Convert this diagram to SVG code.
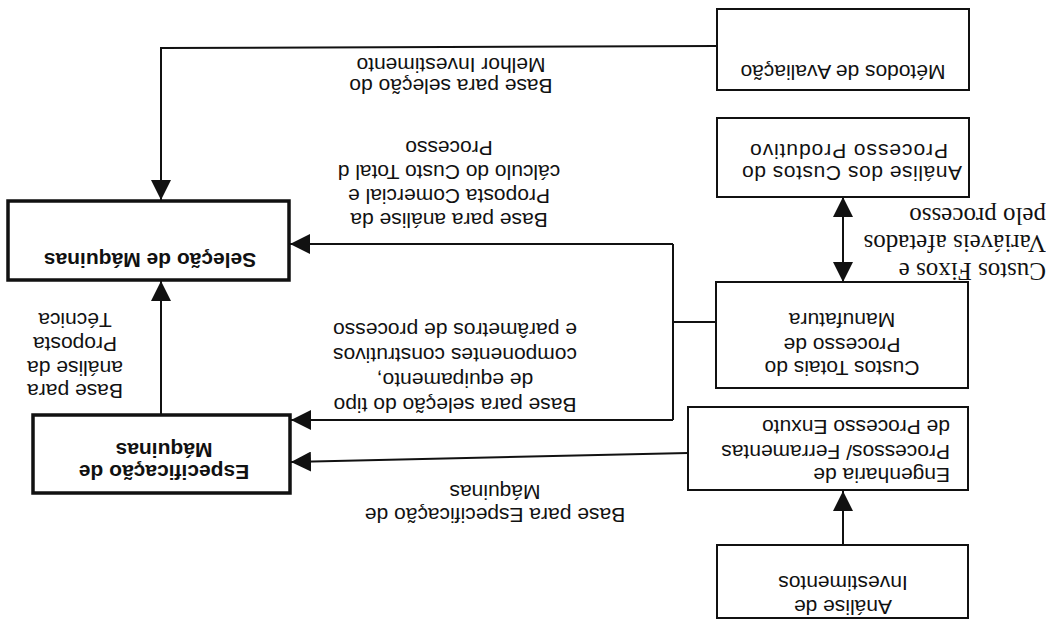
<svg xmlns="http://www.w3.org/2000/svg" width="1046" height="628" viewBox="0 0 1046 628">
<style>
.box{fill:#fff;stroke:#111;stroke-width:2}
.thick{fill:#fff;stroke:#111;stroke-width:3.5}
.t{font-family:"Liberation Sans",Arial,sans-serif;font-size:21px;fill:#111;text-anchor:middle}
.b{font-family:"Liberation Sans",Arial,sans-serif;font-size:21px;font-weight:bold;fill:#111;text-anchor:middle}
.s{font-family:"Liberation Serif","Times New Roman",serif;font-size:25px;fill:#111}
.c{fill:none;stroke:#111;stroke-width:2}
</style>
<defs>
<marker id="ah" markerUnits="userSpaceOnUse" markerWidth="20" markerHeight="20" refX="20" refY="10" orient="auto-start-reverse" viewBox="0 0 20 20">
<path d="M0,0 L20,10 L0,20 z" fill="#111"/>
</marker>
</defs>
<rect width="1046" height="628" fill="#fff"/>
<g transform="rotate(180 523 314)">
<g id="connectors">
<path class="c" d="M329,582 L885,580 L885,428" marker-end="url(#ah)"/>
<path class="c" d="M885,213 L885,347" marker-end="url(#ah)"/>
<path class="c" d="M329,306 L373,306"/>
<path class="c" d="M373,384 L373,208"/>
<path class="c" d="M373,384 L756,384" marker-end="url(#ah)"/>
<path class="c" d="M373,208 L755,208" marker-end="url(#ah)"/>
<path class="c" d="M358,175 L755,166" marker-end="url(#ah)"/>
<path class="c" d="M203,83 L203,137" marker-end="url(#ah)"/>
<path class="c" d="M203,346 L203,431" marker-start="url(#ah)" marker-end="url(#ah)"/>
<text class="t" x="595" y="549">Base para seleção do</text>
<text class="t" x="595" y="570">Melhor Investimento</text>
<text class="t" x="597" y="415">Base para análise da</text>
<text class="t" x="597" y="439">Proposta Comercial e</text>
<text class="t" x="597" y="463">cálculo do Custo Total d</text>
<text class="t" x="597" y="487">Processo</text>
<text class="t" x="591" y="230">Base para seleção do tipo</text>
<text class="t" x="591" y="255">de equipamento,</text>
<text class="t" x="591" y="280">componentes construtivos</text>
<text class="t" x="591" y="305">e parâmetros de processo</text>
<text class="t" x="551" y="120">Base para Especificação de</text>
<text class="t" x="551" y="143">Máquinas</text>
<text class="t" x="971" y="244">Base para</text>
<text class="t" x="971" y="267">análise da</text>
<text class="t" x="971" y="291">Proposta</text>
<text class="t" x="971" y="315">Técnica</text>
<text class="s" x="0" y="365">Custos Fixos e</text>
<text class="s" x="0" y="393">Variáveis afetados</text>
<text class="s" x="0" y="420">pelo processo</text>
</g>
<g id="metodos">
<rect class="box" x="77" y="538" width="252" height="81"/>
<text class="t" x="203" y="563">Métodos de Avaliação</text>
</g>
<g id="analise-custos">
<rect class="box" x="77" y="431" width="252" height="79"/>
<text class="t" x="194" y="462" textLength="220" lengthAdjust="spacing">Análise dos Custos do</text>
<text class="t" x="197" y="484" textLength="198" lengthAdjust="spacing">Processo Produtivo</text>
</g>
<g id="custos-totais">
<rect class="box" x="78" y="240" width="252" height="106"/>
<text class="t" x="204" y="267">Custos Totais do</text>
<text class="t" x="204" y="290">Processo de</text>
<text class="t" x="204" y="315">Manufatura</text>
</g>
<g id="engenharia">
<rect class="box" x="78" y="138" width="280" height="83"/>
<text class="t" x="96" y="160" style="text-anchor:start">Engenharia de</text>
<text class="t" x="96" y="183" style="text-anchor:start">Processos/ Ferramentas</text>
<text class="t" x="96" y="208" style="text-anchor:start">de Processo Enxuto</text>
</g>
<g id="analise-investimentos">
<rect class="box" x="78" y="10" width="251" height="73"/>
<text class="t" x="203" y="28">Análise de</text>
<text class="t" x="203" y="52">Investimentos</text>
</g>
<g id="selecao">
<rect class="thick" x="757" y="348" width="281" height="79"/>
<text class="b" x="896" y="375">Seleção de Máquinas</text>
</g>
<g id="especificacao">
<rect class="thick" x="756" y="135" width="257" height="78"/>
<text class="b" x="882" y="163">Especificação de</text>
<text class="b" x="882" y="185">Máquinas</text>
</g>
</g>
</svg>
